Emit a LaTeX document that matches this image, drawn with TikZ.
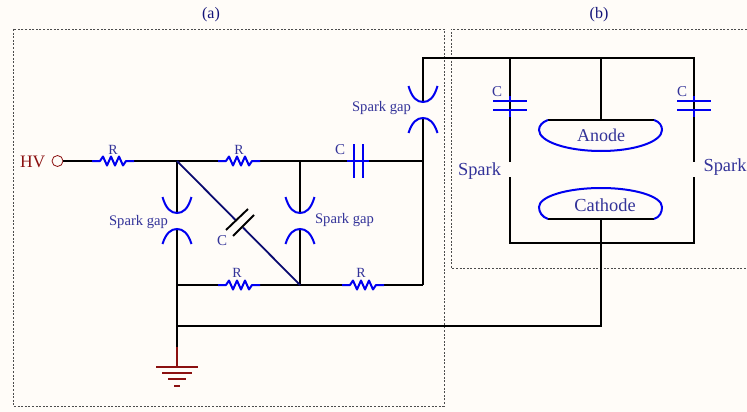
\documentclass[tikz,border=0pt]{standalone}
\usepackage{fontspec}
\setmainfont{Liberation Serif}
\definecolor{bg}{HTML}{FFFCF8}
\definecolor{lab}{HTML}{333399}
\definecolor{blu}{HTML}{0000F0}
\definecolor{navy}{HTML}{0A0A70}
\definecolor{dred}{HTML}{8B1010}
\tikzset{
  wire/.style={draw=black,line width=1.9pt},
  bluewire/.style={draw=blu,line width=2pt},
  redwire/.style={draw=dred,line width=2pt},
  frame/.style={draw=black!70,line width=0.7pt,dash pattern=on 2pt off 1.6pt},
  lbl/.style={text=lab,inner sep=0pt},
  res/.pic={\draw[bluewire,line join=round] (-21,0) -- (-13,0) -- (-10,-4.5) -- (-6,4.5) -- (-2,-4.5) -- (2,4.5) -- (6,-4.5) -- (10,4.5) -- (13,0) -- (21,0);},
  gap/.pic={
    \draw[bluewire] (-14.5,-16) .. controls (-11,-4) and (-6,0) .. (0,0) .. controls (6,0) and (11,-4) .. (14.5,-16);
    \draw[bluewire] (-14.5,31) .. controls (-11,20) and (-6,16) .. (0,16) .. controls (6,16) and (11,20) .. (14.5,31);
  },
  vcap/.pic={
    \draw[bluewire] (0,-5) -- (0,0) (0,9) -- (0,16);
    \draw[bluewire] (-17,0) -- (17,0) (-17,9) -- (17,9);
  }
}
\newcommand{\fs}[1]{\fontsize{#1}{#1}\selectfont}
\begin{document}
\begin{tikzpicture}[x=1pt,y=-1pt]
\useasboundingbox (0,0) rectangle (747,412);
\fill[bg] (0,0) rectangle (747,412);
% frames
\draw[frame] (13,29) rectangle (444,406);
\draw[frame] (747,29) -- (451,29) -- (451,268) -- (747,268);
\node[lbl,text=navy!80!lab] (ta) at (211,15) {\fs{16}(a)};
\node[lbl,text=navy!80!lab] (tb) at (599,15) {\fs{16}(b)};
% junctions
\coordinate (j1) at (177,161);
\coordinate (j2) at (300,161);
\coordinate (j3) at (423,161);
\coordinate (j4) at (177,285);
\coordinate (j5) at (300,285);
\coordinate (j6) at (423,285);
\coordinate (j7) at (177,326);
\coordinate (j8) at (601,326);
\coordinate (gt) at (177,347);
\coordinate (gb) at (177,367);
\coordinate (top0) at (423,58);
\coordinate (topL) at (510,58);
\coordinate (topC) at (601,58);
\coordinate (topR) at (694,58);
\coordinate (botL) at (510,243);
\coordinate (botC) at (601,243);
\coordinate (botR) at (694,243);
% HV
\node[circle,draw=dred,line width=0.8pt,fill=bg,minimum size=11pt,inner sep=0pt] (hv) at (57.5,161) {};
\node[lbl,text=dred,anchor=east] (hvt) at (45.5,161.5) {\fs{17.5}HV};
\coordinate (r1a) at (92,161); \coordinate (r1b) at (134,161);
\coordinate (r2a) at (218,161); \coordinate (r2b) at (260,161);
\coordinate (r3a) at (218,285); \coordinate (r3b) at (260,285);
\coordinate (r4a) at (342,285); \coordinate (r4b) at (384,285);
\coordinate (c1a) at (347,161); \coordinate (c1b) at (369,161);
\draw[wire] (hv) -- (r1a) (r1b) -- (j1) -- (r2a) (r2b) -- (j2) -- (c1a) (c1b) -- (j3);
\draw[wire] (j4) -- (r3a) (r3b) -- (j5) -- (r4a) (r4b) -- (j6);
\path (113,161) pic {res} (239,161) pic {res} (239,285) pic {res} (363,285) pic {res};
\node[lbl] (lr1) at (113,150) {\fs{14}R};
\node[lbl] (lr2) at (239,150) {\fs{14}R};
\node[lbl] (lr3) at (237,273) {\fs{14}R};
\node[lbl] (lr4) at (361,273) {\fs{14}R};
% series capacitor
\draw[bluewire] (c1a) -- (c1b) (354,144) -- (354,178) (363,144) -- (363,178);
\node[lbl] (lc1) at (340,150) {\fs{15}C};
% spark gaps
\coordinate (g1a) at (177,213); \coordinate (g1b) at (177,229);
\coordinate (g2a) at (300,213); \coordinate (g2b) at (300,229);
\coordinate (g3a) at (423,102); \coordinate (g3b) at (423,118);
\coordinate (sLa) at (510,162); \coordinate (sLb) at (510,177);
\coordinate (sRa) at (694,162); \coordinate (sRb) at (694,177);
\draw[wire] (j1) -- (g1a) (g1b) -- (gt);
\draw[wire] (j2) -- (g2a) (g2b) -- (j5);
\draw[wire] (j6) -- (g3b) (g3a) -- (top0) -- (topR) -- (sRa);
\draw[wire] (sRb) -- (botR) -- (botL) -- (sLb);
\draw[wire] (sLa) -- (topL);
\path (g1a) pic {gap} (g2a) pic {gap} (g3a) pic {gap};
\node[lbl] (s1) at (138.5,222.5) {\fs{14.6}Spark gap};
\node[lbl] (s2) at (344.5,220.5) {\fs{14.6}Spark gap};
\node[lbl] (s3) at (381.5,108.5) {\fs{14.6}Spark gap};
% diagonal capacitor
\coordinate (d1) at (235.5,220); \coordinate (d2) at (243,227.5);
\draw[navy,line width=1.8pt] (j1) -- (d1) (d2) -- (j5);
\draw[wire] (226,230) -- (248,209) (233,236) -- (254,215);
\node[lbl] (lc2) at (222,241) {\fs{15}C};
% bottom return and ground
\draw[wire] (j7) -- (j8) -- (botC);
\draw[redwire] (gt) -- (gb);
\draw[redwire] (156,367) -- (198,367) (162,373) -- (192,373) (168,379) -- (186,379) (174,386) -- (179.5,386);
% part (b)
\coordinate (ana) at (601,120); \coordinate (cat) at (601,219);
\draw[wire] (topC) -- (ana);
\draw[wire] (cat) -- (botC);
\draw[wire] (548,120) -- (654,120) (548,219) -- (654,219);
\draw[bluewire] (548,120) .. controls (542,122) and (539,126) .. (539,130) .. controls (539,141.6) and (567,151) .. (601,151) .. controls (635,151) and (662,141.6) .. (662,130) .. controls (662,126) and (660,122) .. (654,120);
\draw[bluewire] (548,219) .. controls (542,217) and (539,212) .. (539,207) .. controls (539,196.5) and (567,188) .. (601,188) .. controls (635,188) and (662,196.5) .. (662,207) .. controls (662,212) and (660,217) .. (654,219);
\node[lbl] (an) at (601,135) {\fs{18}Anode};
\node[lbl] (ca) at (605,205) {\fs{18.4}Cathode};
\path (510,101) pic {vcap} (694,101) pic {vcap};
\node[lbl] (c3) at (497,92) {\fs{15}C};
\node[lbl] (c4) at (682,92) {\fs{15}C};
\node[lbl] (sp1) at (479.5,171) {\fs{18.4}Spark};
\node[lbl] (sp2) at (725,167) {\fs{18.4}Spark};
\end{tikzpicture}
\end{document}
